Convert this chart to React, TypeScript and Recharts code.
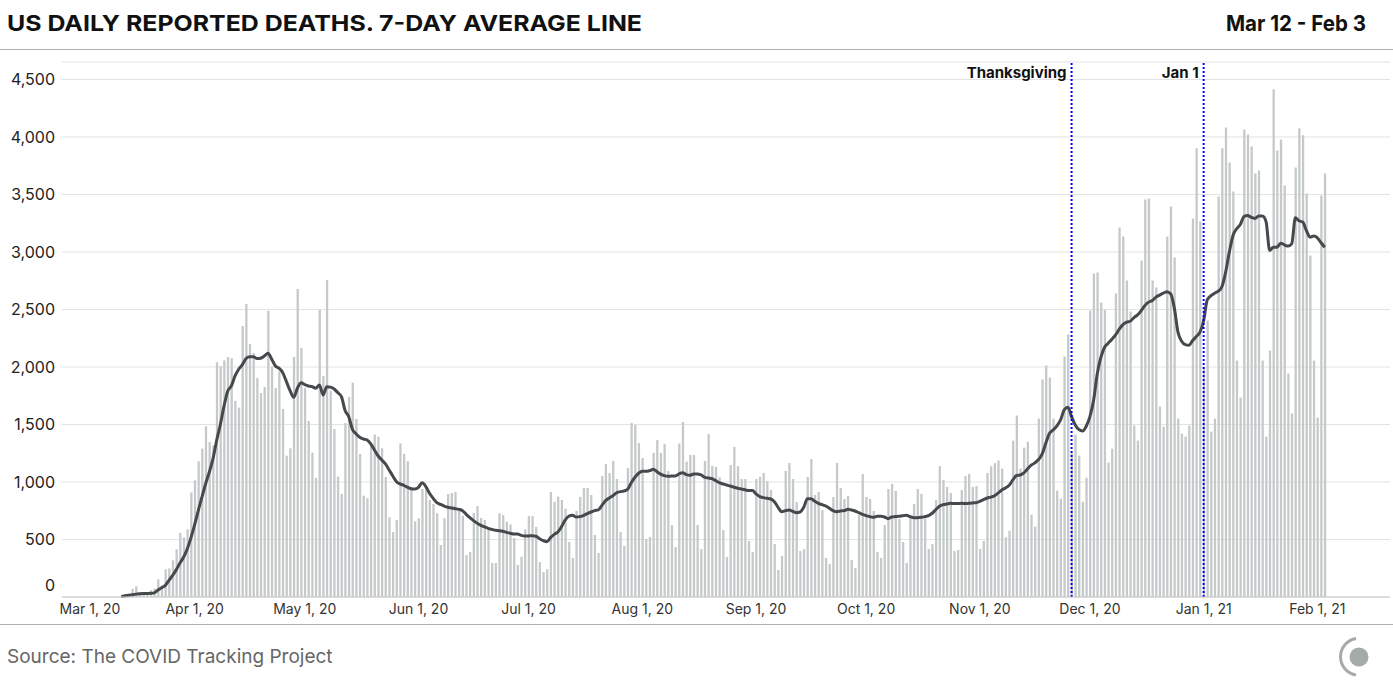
import { ComposedChart, Bar, Line, XAxis, YAxis, CartesianGrid, ReferenceLine } from "recharts";

// daily reported deaths, Mar 12 2020 (day 0) .. Feb 3 2021 (day 328)
const deaths = [
  3, 6, 10, 72, 93, 43, 38, 43, 58, 72,
  154, 101, 241, 249, 319, 415, 557, 519, 588, 910,
  1015, 1180, 1290, 1484, 1348, 1319, 2041, 2006, 2058, 2087,
  2076, 1705, 1647, 2357, 2548, 2200, 2122, 1905, 1774, 1826,
  2487, 2003, 1818, 1960, 1635, 1229, 1293, 2087, 2679, 2166,
  1818, 1531, 1255, 1035, 2496, 1922, 2757, 1792, 1461, 1047,
  896, 1513, 1739, 1864, 1548, 1244, 881, 858, 1325, 1412,
  1394, 1293, 1044, 693, 565, 670, 1336, 1244, 1180, 936,
  658, 684, 939, 945, 844, 809, 728, 452, 686, 896,
  904, 913, 751, 707, 365, 391, 731, 791, 687, 670,
  597, 296, 296, 728, 713, 655, 632, 513, 278, 351,
  588, 704, 704, 609, 304, 217, 241, 913, 828, 873,
  844, 768, 478, 339, 748, 870, 948, 948, 887, 539,
  383, 1052, 1157, 1078, 1183, 1026, 565, 444, 1122, 1513,
  1496, 1339, 1209, 504, 522, 1252, 1365, 1253, 1332, 1096,
  626, 435, 1334, 1522, 1177, 1235, 1235, 626, 417, 1183,
  1418, 1139, 1131, 1041, 583, 348, 1148, 1305, 1139, 1026,
  1026, 487, 391, 1026, 1044, 1078, 1009, 931, 461, 235,
  357, 1096, 1165, 1026, 826, 400, 417, 1044, 1200, 887,
  913, 757, 339, 287, 870, 1165, 948, 852, 878, 322,
  252, 713, 1070, 870, 852, 748, 391, 340, 626, 939,
  983, 922, 678, 478, 296, 693, 809, 939, 896, 684,
  417, 461, 844, 1139, 1018, 957, 904, 400, 409, 931,
  1052, 1070, 957, 965, 417, 487, 1078, 1137, 1163, 1186,
  1117, 519, 577, 1360, 1578, 1117, 1299, 1351, 716, 612,
  1552, 1891, 2013, 1908, 1552, 925, 856, 2091, 2282, 1250,
  1412, 1230, 829, 1038, 2491, 2813, 2822, 2561, 2496, 1169,
  1290, 2639, 3213, 3135, 2752, 2482, 1491, 1360, 2926, 3457,
  3466, 2752, 2691, 1656, 1482, 3135, 3396, 2952, 1552, 1421,
  1395, 1491, 3292, 3901, 3265, 2000, 2404, 1438, 1552, 3483,
  3901, 4083, 3779, 3526, 2056, 1734, 4066, 4022, 3918, 3683,
  3709, 2056, 1395, 2143, 4414, 3883, 3979, 3579, 1943, 1595,
  3735, 4075, 4014, 3509, 2970, 2056, 1560, 3492, 3683,
];

// 7-day average line as drawn
const average = [
  5, 10, 15, 20, 25, 28, 30, 30, 32, 36,
  60, 81, 101, 145, 188, 238, 296, 348, 420, 516,
  629, 754, 870, 986, 1087, 1203, 1363, 1500, 1660, 1790,
  1835, 1922, 1980, 2021, 2073, 2090, 2090, 2073, 2076, 2096,
  2119, 2067, 2009, 1989, 1951, 1873, 1794, 1736, 1815, 1864,
  1847, 1835, 1829, 1815, 1844, 1757, 1829, 1825, 1809, 1777,
  1742, 1621, 1568, 1458, 1418, 1389, 1374, 1365, 1331, 1278,
  1226, 1192, 1157, 1105, 1052, 1003, 983, 971, 954, 942,
  939, 954, 994, 960, 902, 858, 820, 805, 791, 780,
  774, 768, 762, 751, 719, 690, 664, 641, 623, 609,
  597, 588, 580, 577, 571, 562, 554, 548, 548, 536,
  531, 531, 533, 528, 507, 490, 481, 516, 545, 565,
  612, 670, 704, 710, 696, 699, 710, 725, 739, 751,
  757, 797, 838, 861, 881, 907, 916, 922, 936, 994,
  1041, 1076, 1093, 1093, 1099, 1110, 1090, 1068, 1055, 1049,
  1052, 1052, 1070, 1081, 1064, 1058, 1070, 1070, 1061, 1041,
  1035, 1029, 1012, 994, 983, 974, 965, 954, 945, 939,
  933, 925, 925, 896, 873, 864, 858, 852, 829, 780,
  742, 751, 757, 745, 733, 739, 780, 855, 855, 832,
  815, 803, 791, 771, 751, 742, 748, 751, 762, 757,
  748, 733, 719, 707, 699, 693, 702, 702, 696, 681,
  696, 699, 702, 707, 710, 699, 690, 690, 693, 699,
  707, 728, 760, 789, 803, 809, 815, 812, 812, 815,
  812, 815, 818, 820, 832, 847, 861, 868, 880, 905,
  931, 948, 972, 1018, 1056, 1061, 1079, 1114, 1146, 1166,
  1195, 1244, 1340, 1424, 1453, 1488, 1540, 1627, 1650, 1569,
  1496, 1456, 1444, 1485, 1569, 1708, 1940, 2085, 2172, 2207,
  2242, 2279, 2329, 2369, 2390, 2398, 2430, 2453, 2491, 2535,
  2564, 2578, 2607, 2625, 2642, 2654, 2636, 2514, 2303, 2224,
  2195, 2190, 2230, 2265, 2303, 2404, 2585, 2620, 2642, 2659,
  2700, 2825, 2999, 3144, 3202, 3239, 3309, 3318, 3300, 3292,
  3312, 3312, 3265, 3013, 3042, 3042, 3077, 3062, 3051, 3071,
  3297, 3271, 3260, 3187, 3129, 3138, 3123, 3080, 3042,
];

const tickDays = [-11, 20, 50, 81, 111, 142, 173, 203, 234, 264, 295, 326];
const tickLabels = [
  "Mar 1, 20", "Apr 1, 20", "May 1, 20", "Jun 1, 20", "Jul 1, 20", "Aug 1, 20",
  "Sep 1, 20", "Oct 1, 20", "Nov 1, 20", "Dec 1, 20", "Jan 1, 21", "Feb 1, 21",
];
const yTicks = [0, 500, 1000, 1500, 2000, 2500, 3000, 3500, 4000, 4500];
const markerDays = [259, 295];
const markerLabels = ["Thanksgiving", "Jan 1"];

const data = deaths.map((d, i) => ({ day: i, deaths: d, avg: average[i] }));

const FONT = "Inter, Roboto, sans-serif";

const XTick = (props: any) => {
  const { x, y, payload, index } = props;
  const label = tickLabels[tickDays.indexOf(payload.value)];
  // first label is nudged right so it doesn't run off the left edge
  return (
    <text x={index === 0 ? x + 9 : x} y={y} dy={9} textAnchor="middle" fontSize={14} fill="#333" fontFamily={FONT}>
      {label}
    </text>
  );
};

const YTick = (props: any) => {
  const { x, y, payload } = props;
  return (
    <text x={x + 1} y={y} dy={payload.value === 0 ? -6 : 6} textAnchor="end" fontSize={16} fill="#222" fontFamily={FONT}>
      {payload.value.toLocaleString("en-US")}
    </text>
  );
};

const MarkerLabel = (props: any) => {
  const { viewBox, text } = props;
  if (!viewBox) return null;
  return (
    <text x={viewBox.x - 5} y={viewBox.y + 16} textAnchor="end" fontSize={15} fontWeight={700} fill="#111" fontFamily={FONT}>
      {text}
    </text>
  );
};

export default function App() {
  return (
    <div style={{ position: "absolute", left: 0, top: 0, width: 1393, height: 691, background: "#fff" }}>
      <ComposedChart
        width={1393}
        height={691}
        data={data}
        margin={{ top: 62, right: 3, bottom: 64, left: 8 }}
      >
        <CartesianGrid vertical={false} stroke="#e3e3e3" />
        <XAxis
          dataKey="day"
          type="number"
          domain={[-16.16, 345.79]}
          ticks={tickDays}
          interval={0}
          height={30}
          tickLine={false}
          axisLine={{ stroke: "#c8c8c8" }}
          tick={<XTick />}
        />
        <YAxis
          width={54}
          domain={[0, 4652]}
          ticks={yTicks}
          interval={0}
          axisLine={false}
          tickLine={false}
          tick={<YTick />}
        />
        <Bar dataKey="deaths" fill="#c5c9ca" barSize={2.3} isAnimationActive={false} />
        <Line
          dataKey="avg"
          type="monotone"
          stroke="#45494b"
          strokeWidth={3}
          dot={false}
          isAnimationActive={false}
        />
        {markerDays.map((d, i) => (
          <ReferenceLine
            key={d}
            x={d}
            stroke="#0000ff"
            strokeWidth={2}
            strokeDasharray="2 2"
            label={<MarkerLabel text={markerLabels[i]} />}
          />
        ))}
      </ComposedChart>

      <svg width={1393} height={691} style={{ position: "absolute", left: 0, top: 0, pointerEvents: "none" }}>
        <text x={7} y={31} fontSize={22} fontWeight={700} fill="#111" fontFamily={FONT} textLength={635} lengthAdjust="spacingAndGlyphs">
          US DAILY REPORTED DEATHS. 7-DAY AVERAGE LINE
        </text>
        <text x={1226} y={31} fontSize={22} fontWeight={700} fill="#111" fontFamily={FONT} textLength={140} lengthAdjust="spacingAndGlyphs">
          Mar 12 - Feb 3
        </text>
        <line x1={0} x2={1393} y1={49.5} y2={49.5} stroke="#b0b0b0" />
        <line x1={0} x2={1393} y1={624.5} y2={624.5} stroke="#b0b0b0" />
        <text x={7} y={663} fontSize={19} fill="#666" fontFamily={FONT}>
          Source: The COVID Tracking Project
        </text>
        <circle cx={1359} cy={657} r={9.5} fill="#a7aaaa" />
        <path d="M 1356 638.5 A 18.5 18.5 0 0 0 1356 675" fill="none" stroke="#a7aaaa" strokeWidth={3} />
      </svg>
    </div>
  );
}
